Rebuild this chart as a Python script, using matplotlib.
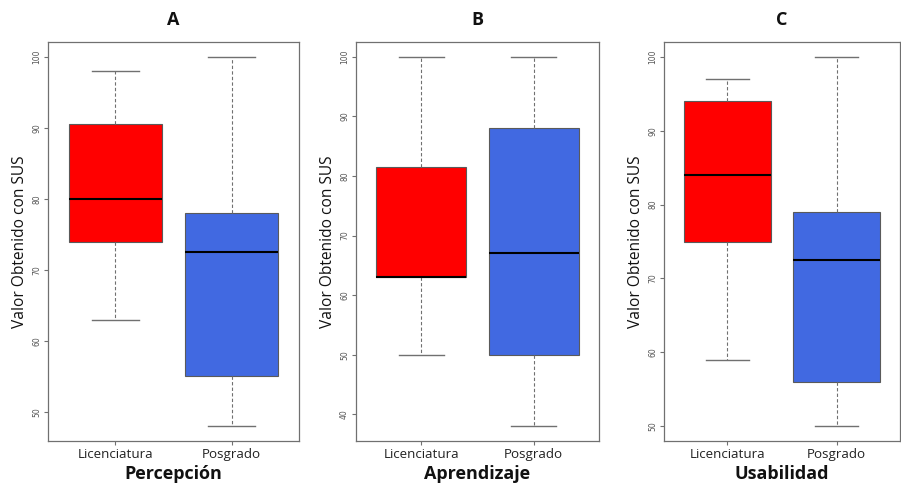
import matplotlib
matplotlib.use("Agg")
import matplotlib.pyplot as plt

# values (SUS scores)
groups = ["Licenciatura", "Posgrado"]
panel_titles = ["A", "B", "C"]
panel_xlabels = ["Percepción", "Aprendizaje", "Usabilidad"]

# whisker low, Q1, median, Q3, whisker high
perc_lic = [63, 74, 80, 90.5, 98]
perc_pos = [48, 55, 72.5, 78, 100]
apre_lic = [50, 63, 63, 81.5, 100]
apre_pos = [38, 50, 67, 88, 100]
usab_lic = [59, 75, 84, 94, 97]
usab_pos = [50, 56, 72.5, 79, 100]

panel_stats = [(perc_lic, perc_pos), (apre_lic, apre_pos), (usab_lic, usab_pos)]
yticks_list = [[50, 60, 70, 80, 90, 100],
               [40, 50, 60, 70, 80, 90, 100],
               [50, 60, 70, 80, 90, 100]]

box_colors = ["#FF0000", "#4169E1"]
grey = "#707070"

plt.rcParams['font.family'] = ['Open Sans', 'DejaVu Sans']

W, H = 901, 484
fig = plt.figure(figsize=(W / 100, H / 100), dpi=100)

# axes boxes in pixels: left, right
boxes_px = [(48, 299), (356, 599), (664, 900)]
top_px, bottom_px = 42, 441
label_off = 28


def make_stats(vals, name):
    lo, q1, med, q3, hi = vals
    return dict(label=name, whislo=lo, q1=q1, med=med, q3=q3, whishi=hi, fliers=[])


for i, (l, r) in enumerate(boxes_px):
    ax = fig.add_axes([l / W, 1 - bottom_px / H, (r - l) / W, (bottom_px - top_px) / H])
    stats = [make_stats(v, g) for v, g in zip(panel_stats[i], groups)]
    bp = ax.bxp(stats, positions=[1, 2], widths=0.8, patch_artist=True,
                showfliers=False, capwidths=0.4,
                boxprops=dict(edgecolor="#5a5a5a", linewidth=0.8),
                medianprops=dict(color="black", linewidth=1.5),
                whiskerprops=dict(color=grey, linestyle=(0, (3, 2)), linewidth=0.8),
                capprops=dict(color=grey, linewidth=1.0))
    for patch, c in zip(bp["boxes"], box_colors):
        patch.set_facecolor(c)

    lo = min(s["whislo"] for s in stats)
    hi = max(s["whishi"] for s in stats)
    pad = (hi - lo) * 0.04
    ax.set_ylim(lo - pad, hi + pad)
    ax.set_xlim(0.42, 2.58)
    ax.set_yticks(yticks_list[i])
    ax.set_yticklabels([str(t) for t in yticks_list[i]], rotation=90, va="center",
                       fontsize=5.5, color="#555555", family="DejaVu Sans")
    ax.set_xticks([1, 2])
    ax.set_xticklabels(groups, fontsize=9.6, color="#222222")
    ax.tick_params(axis="both", colors=grey, length=3, width=0.8)
    ax.tick_params(axis="x", labelcolor="#222222", pad=2)
    ax.tick_params(axis="y", labelcolor="#555555", pad=2)
    for sp in ax.spines.values():
        sp.set_color(grey)
        sp.set_linewidth(0.9)

    ax.set_ylabel("Valor Obtenido con SUS", fontsize=11.2, color="#111111")
    ax.yaxis.set_label_coords(-label_off / (r - l), 0.5)
    ax.yaxis.label.set_va("center")

    fig.text((l + r) / 2 / W, 1 - 20 / H, panel_titles[i], ha="center", va="center",
             fontsize=13, fontweight="bold", color="#111111")
    fig.text((l + r) / 2 / W, 1 - 474 / H, panel_xlabels[i], ha="center", va="center",
             fontsize=13, fontweight="bold", color="#111111")

fig.savefig("out.png", dpi=100)
